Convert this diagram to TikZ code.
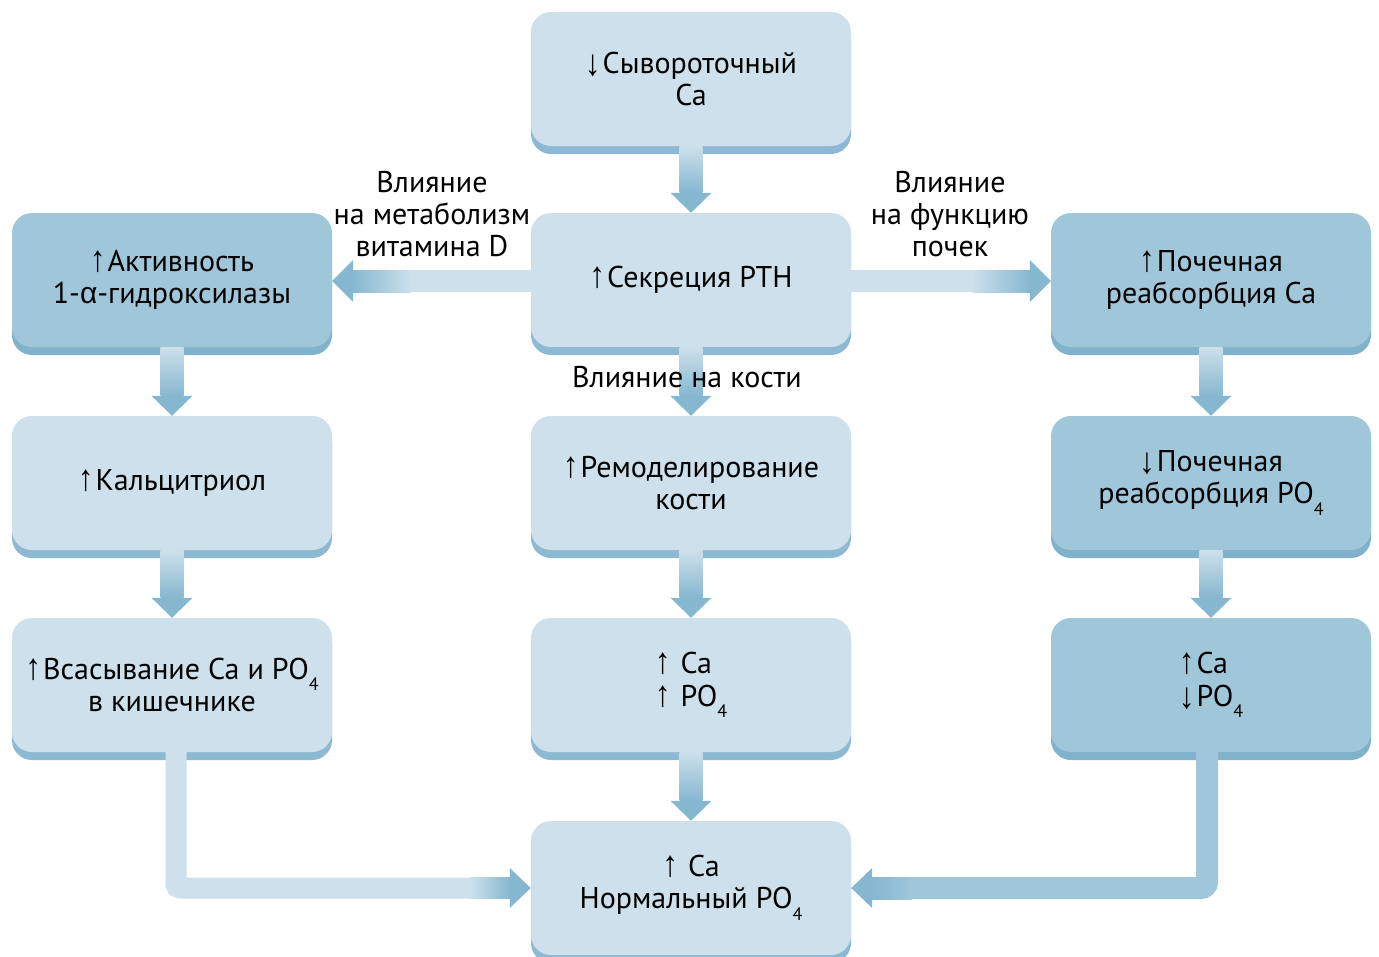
\documentclass[tikz,border=0pt]{standalone}
\usepackage{fontspec}
\usepackage{graphicx}
\setmainfont{PT Sans}
\newfontfamily\symf{Liberation Sans}
\usetikzlibrary{calc,shadows}
\definecolor{boxL}{RGB}{205,224,235}
\definecolor{boxD}{RGB}{160,198,218}
\definecolor{shL}{RGB}{141,186,210}
\definecolor{shD}{RGB}{128,178,204}
\definecolor{arrD}{RGB}{133,183,208}
\newcommand{\UpA}{{\symf\scalebox{1.05}[1.22]{↑}}\kern2pt}
\newcommand{\DnA}{{\symf\raisebox{-0.06em}{\scalebox{1.05}[1.22]{↓}}}\kern2pt}
\newcommand{\Four}{\raisebox{-0.38em}{\fontsize{18}{18}\selectfont 4}}
\newcommand{\vconn}[2]{%
  \shade[top color=boxL, bottom color=arrD] ($(#1.south)+(-11.5,0)$) rectangle ($(#2.north)+(11.5,-20)$);
  \fill[arrD] ($(#2.north)+(-20.5,-20)$) -- ($(#2.north)+(20.5,-20)$) -- (#2.north) -- cycle;}
\begin{document}
\begin{tikzpicture}[x=1pt,y=-1pt,
  box/.style={rectangle, rounded corners=20pt, minimum width=320pt, minimum height=134pt,
    inner sep=0pt, align=center, font=\fontsize{30}{32}\selectfont},
  lbox/.style={box, fill=boxL, general shadow={fill=shL, shadow yshift=-8pt}},
  dbox/.style={box, fill=boxD, general shadow={fill=shD, shadow yshift=-8pt}},
  lbl/.style={align=center, inner sep=0pt, font=\fontsize{30}{32}\selectfont}]
\clip (0,0) rectangle (1379,956);
\fill[white] (0,0) rectangle (1379,956);
% boxes
\node[lbox] (S)  at (691,79)  {\DnA Сывороточный\\Ca};
\node[lbox] (P)  at (691,280) {\UpA Секреция PTH};
\node[dbox] (A)  at (172,280) {\UpA Активность\\1-{\symf α}-гидроксилазы};
\node[dbox] (R)  at (1211,280) {\UpA Почечная\\реабсорбция Ca};
\node[lbox] (K)  at (172,483) {\UpA Кальцитриол};
\node[lbox] (B)  at (691,483) {\UpA Ремоделирование\\кости};
\node[dbox] (RP) at (1211,483) {\DnA Почечная\\реабсорбция PO\Four};
\node[lbox] (V)  at (172,685) {\UpA Всасывание Ca и PO\Four\\в кишечнике};
\node[lbox, align=left] (M) at (691,685) {\UpA\ Ca\\[1pt]\UpA\ PO\Four};
\node[dbox, align=left] (C) at (1211,685) {\UpA Ca\\[1pt]\DnA PO\Four};
\node[lbox] (N)  at (691,888) {\UpA\ Ca\\Нормальный PO\Four};
% vertical connectors
\vconn{S}{P}
\vconn{P}{B}
\vconn{B}{M}
\vconn{M}{N}
\vconn{A}{K}
\vconn{K}{V}
\vconn{R}{RP}
\vconn{RP}{C}
% horizontal: PTH -> left
\fill[boxL] ($(P.west)+(0.5,-10)$) rectangle ($(A.east)+(78,12)$);
\shade[left color=arrD, right color=boxL] ($(A.east)+(20,-10)$) rectangle ($(A.east)+(79,12)$);
\fill[arrD] ($(A.east)+(0,1)$) -- ($(A.east)+(21,-20)$) -- ($(A.east)+(21,22)$) -- cycle;
% horizontal: PTH -> right
\fill[boxL] ($(P.east)+(-0.5,-10)$) rectangle ($(R.west)+(-78,12)$);
\shade[left color=boxL, right color=arrD] ($(R.west)+(-79,-10)$) rectangle ($(R.west)+(-20,12)$);
\fill[arrD] ($(R.west)+(0,1)$) -- ($(R.west)+(-21,-20)$) -- ($(R.west)+(-21,22)$) -- cycle;
% bottom left connector
\draw[boxL, line width=21pt, rounded corners=4pt] ($(V.south)+(4,0)$) |- ($(N.west)+(-60,0)$);
\shade[left color=boxL, right color=arrD] ($(N.west)+(-61,-10.5)$) rectangle ($(N.west)+(-20,10.5)$);
\fill[arrD] (N.west) -- ($(N.west)+(-21,-20)$) -- ($(N.west)+(-21,20)$) -- cycle;
% bottom right connector
\draw[boxD, line width=22pt, rounded corners=6pt] ($(C.south)+(-4,0)$) |- ($(N.east)+(60,0)$);
\shade[left color=arrD, right color=boxD] ($(N.east)+(20,-11)$) rectangle ($(N.east)+(61,11)$);
\fill[arrD] (N.east) -- ($(N.east)+(21,-20)$) -- ($(N.east)+(21,20)$) -- cycle;
% labels
\node[lbl] (lv) at (432,214) {Влияние\\на метаболизм\\витамина D};
\node[lbl] (lk) at (950,214) {Влияние\\на функцию\\почек};
\node[lbl] (lb) at (687,377) {Влияние на кости};
\end{tikzpicture}
\end{document}
